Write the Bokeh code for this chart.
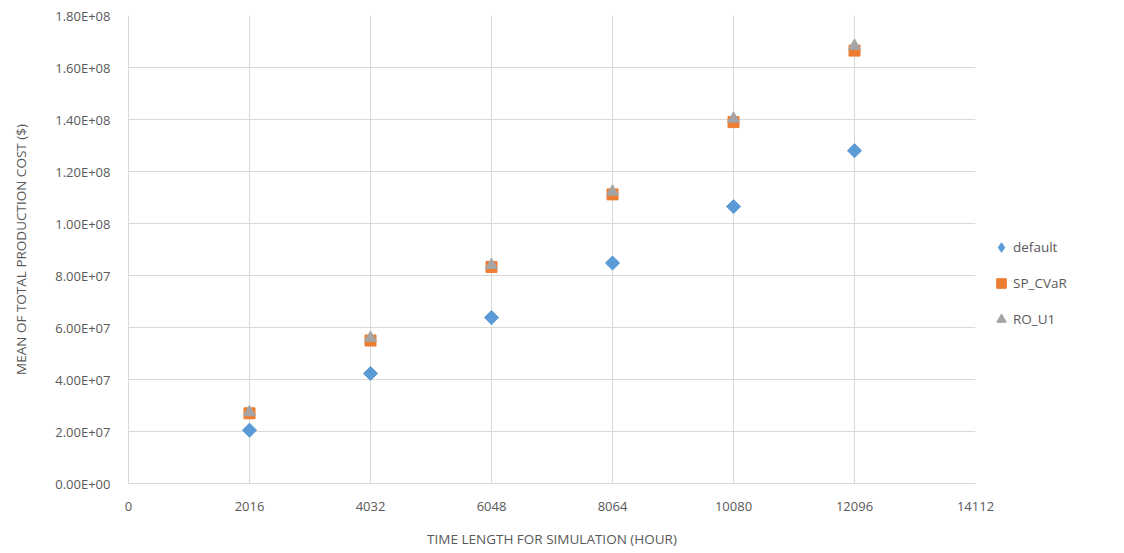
import math
from bokeh.plotting import figure
from bokeh.models import Legend, LegendItem, FixedTicker, Range1d
from bokeh.embed import file_html
from bokeh.resources import INLINE

hours = [2016, 4032, 6048, 8064, 10080, 12096]
default_cost = [2.05e7, 4.23e7, 6.38e7, 8.48e7, 1.065e8, 1.28e8]
sp_cvar_cost = [2.70e7, 5.50e7, 8.33e7, 1.112e8, 1.390e8, 1.665e8]
ro_u1_cost = [2.74e7, 5.60e7, 8.40e7, 1.122e8, 1.403e8, 1.683e8]

x_ticks = [0, 2016, 4032, 6048, 8064, 10080, 12096, 14112]
y_ticks = [i * 2e7 for i in range(10)]
y_labels = ["0.00E+00", "2.00E+07", "4.00E+07", "6.00E+07", "8.00E+07",
            "1.00E+08", "1.20E+08", "1.40E+08", "1.60E+08", "1.80E+08"]

FONT = "Open Sans"
GRAY = "#595959"
BLUE, ORANGE, GREY = "#5B9BD5", "#ED7D31", "#A5A5A5"

p = figure(frame_width=847, frame_height=468, output_backend="svg", toolbar_location=None,
           x_range=Range1d(0, 14112), y_range=Range1d(0, 1.8e8),
           min_border_left=128, min_border_right=149, min_border_top=15, min_border_bottom=70)
p.outline_line_color = None

p.xaxis.ticker = FixedTicker(ticks=x_ticks)
p.yaxis.ticker = FixedTicker(ticks=y_ticks)
p.yaxis.major_label_overrides = {t: l for t, l in zip(y_ticks, y_labels)}
p.xaxis.major_label_overrides = {t: str(t) for t in x_ticks}

for ax in (p.xaxis[0], p.yaxis[0]):
    ax.axis_line_color = "#D9D9D9"
    ax.major_tick_line_color = None
    ax.minor_tick_line_color = None
    ax.major_label_text_font = FONT
    ax.major_label_text_font_size = "13px"
    ax.major_label_text_color = GRAY
    ax.axis_label_text_font = FONT
    ax.axis_label_text_font_size = "13.5px"
    ax.axis_label_text_font_style = "normal"
    ax.axis_label_text_color = GRAY

p.xaxis.axis_label = "TIME LENGTH FOR SIMULATION (HOUR)"
p.yaxis.axis_label = "MEAN OF TOTAL PRODUCTION COST ($)"
p.xaxis.major_label_standoff = 12
p.yaxis.major_label_standoff = 12
p.xaxis.axis_label_standoff = 16
p.yaxis.axis_label_standoff = 22

p.xgrid.grid_line_color = "#D9D9D9"
p.ygrid.grid_line_color = "#D9D9D9"

# diamond renderer (used by the legend), covered by an equal-area rotated square
r1 = p.scatter(hours, default_cost, marker="diamond", size=13, color=BLUE)
p.scatter(hours, default_cost, marker="square", angle=math.pi / 4, size=10, color=BLUE)
r2 = p.scatter(hours, sp_cvar_cost, marker="square", size=11, color=ORANGE)
r3 = p.scatter(hours, ro_u1_cost, marker="triangle", size=12, color=GREY)

legend = Legend(items=[LegendItem(label="default", renderers=[r1]),
                       LegendItem(label="SP_CVaR", renderers=[r2]),
                       LegendItem(label="RO_U1", renderers=[r3])],
                location=(14, 152))
legend.border_line_color = None
legend.background_fill_alpha = 0
legend.label_text_font = FONT
legend.label_text_font_size = "13.5px"
legend.label_text_color = GRAY
legend.glyph_width = 24
legend.glyph_height = 24
legend.spacing = 12
legend.label_standoff = 0
legend.margin = 0
legend.padding = 0
p.add_layout(legend, "right")

open("out.html", "w").write(file_html(p, INLINE))
